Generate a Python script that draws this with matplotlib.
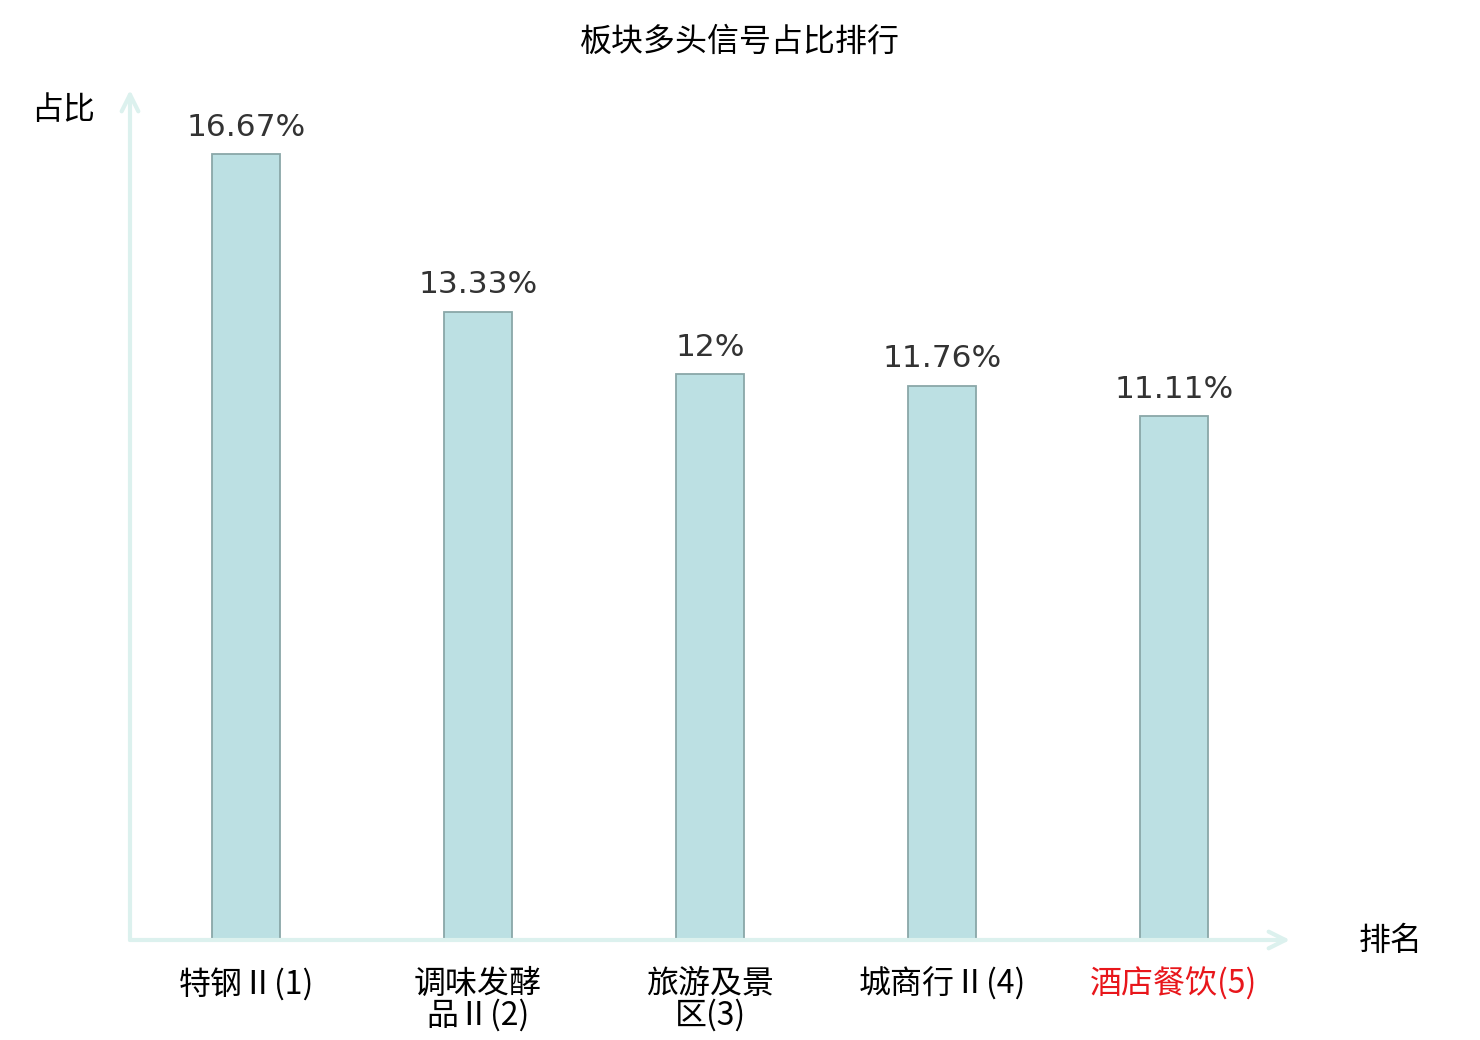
import numpy as np
import matplotlib
matplotlib.use('Agg')
import matplotlib.pyplot as plt

plt.rcParams['font.family'] = ['Noto Sans CJK SC', 'DejaVu Sans']

# data
sectors = ['特钢Ⅱ(1)', '调味发酵\n品Ⅱ(2)', '旅游及景\n区(3)', '城商行Ⅱ(4)', '酒店餐饮(5)']
shares = [16.67, 13.33, 12, 11.76, 11.11]
share_labels = ['16.67%', '13.33%', '12%', '11.76%', '11.11%']

axis_color = '#dcf1ee'

fig = plt.figure(figsize=(14.8, 10.4), dpi=100)
ax = fig.add_axes([130 / 1480, 100 / 1040, 1160 / 1480, 850 / 1040])

x = np.arange(len(sectors))
ax.bar(x, shares, width=0.295, color='#bce0e3', edgecolor='#8aa7a8', linewidth=1.3, zorder=3)

for xi, v, lab in zip(x, shares, share_labels):
    ax.annotate(lab, (xi, v), xytext=(0, 9), textcoords='offset points',
                ha='center', va='bottom', fontsize=22.5, color='#333333',
                family=['DejaVu Sans'])

ax.set_xlim(-0.5, 4.5)
ax.set_ylim(0, 18.03)
for s in ax.spines.values():
    s.set_visible(False)
ax.set_yticks([])
ax.set_xticks(x)
ax.set_xticklabels(sectors, fontsize=23, linespacing=0.95)
ax.tick_params(axis='x', length=0, pad=20)
ax.get_xticklabels()[-1].set_color('#e8161b')

# axis arrows
ax.annotate('', xy=(1.0, 0), xytext=(0, 0), xycoords='axes fraction',
            arrowprops=dict(arrowstyle='->', color=axis_color, lw=3, mutation_scale=30,
                            shrinkA=0, shrinkB=0))
ax.annotate('', xy=(0, 1.0), xytext=(0, 0), xycoords='axes fraction',
            arrowprops=dict(arrowstyle='->', color=axis_color, lw=3, mutation_scale=30,
                            shrinkA=0, shrinkB=0))

fig.text(63 / 1480, 1 - 110 / 1040, '占比', fontsize=23, ha='center', va='center')
fig.text(1391 / 1480, 1 - 941 / 1040, '排名', fontsize=23, ha='center', va='center')
fig.text(740 / 1480, 1 - 42 / 1040, '板块多头信号占比排行', fontsize=23, ha='center', va='center')

fig.savefig('out.png', dpi=100)
